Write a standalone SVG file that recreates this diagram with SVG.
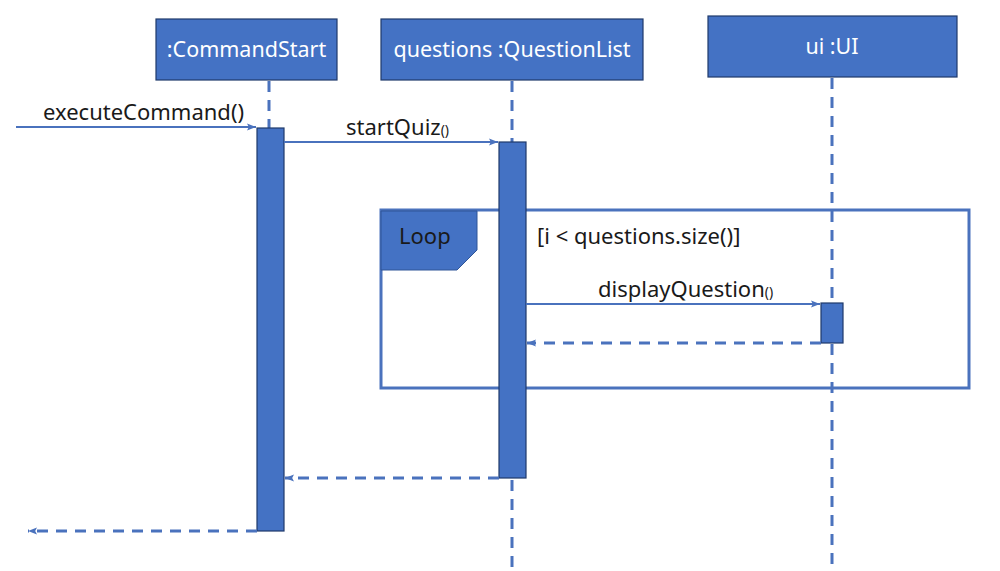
<svg xmlns="http://www.w3.org/2000/svg" width="1000" height="571" viewBox="0 0 1000 571">
<defs>
<style>
.box{fill:#4472C4;stroke:#1F3A6B;stroke-width:1.2}
.act{fill:#4472C4;stroke:#1F3A6B;stroke-width:1.2}
.btxt{font-family:"Noto Sans","DejaVu Sans",sans-serif;font-size:21.5px;fill:#FFFFFF;text-anchor:middle}
.lbl{font-family:"Noto Sans","DejaVu Sans",sans-serif;font-size:22px;fill:#1A1A1A}
.sm{font-size:14px}
.life{stroke:#4A72BD;stroke-width:3;stroke-dasharray:11 8;fill:none}
.msg{stroke:#4A72BD;stroke-width:2.2;fill:none}
.ret{stroke:#4A72BD;stroke-width:3;stroke-dasharray:11 8;fill:none}
.frame{fill:none;stroke:#4A72BD;stroke-width:3}
</style>
<marker id="ah" viewBox="0 0 10 10" refX="10" refY="5" markerWidth="9" markerHeight="9" markerUnits="userSpaceOnUse" orient="auto">
<path d="M0,1 L10,5 L0,9 L2,5 Z" fill="#4A72BD"/>
</marker>
</defs>
<rect width="1000" height="571" fill="#FFFFFF"/>

<g id="lifelines">
<line class="life" x1="269" y1="81" x2="269" y2="128"/>
<line class="life" x1="512" y1="81" x2="512" y2="571"/>
<line class="life" x1="832" y1="78" x2="832" y2="571"/>
</g>

<g id="loop-frame">
<rect class="frame" x="381" y="210" width="588" height="178"/>
<polygon points="381,211 477,211 477,250 457,270 381,270" fill="#4472C4" stroke="#2F5597" stroke-width="1"/>
<text class="lbl" x="399" y="244">Loop</text>
<text class="lbl" x="537" y="244">[i &lt; questions.size()]</text>
</g>

<g id="node-commandstart">
<rect class="box" x="156" y="19" width="181" height="61"/>
<text class="btxt" x="246.5" y="57">:CommandStart</text>
<rect class="act" x="257" y="128" width="27" height="403"/>
</g>

<g id="node-questionlist">
<rect class="box" x="381" y="19" width="262" height="61"/>
<text class="btxt" x="512" y="57">questions :QuestionList</text>
<rect class="act" x="499" y="142" width="27" height="336"/>
</g>

<g id="node-ui">
<rect class="box" x="708" y="16" width="249" height="61"/>
<text class="btxt" x="832" y="54">ui :UI</text>
<rect class="act" x="821" y="303" width="22" height="40"/>
</g>

<g id="connectors">
<line class="msg" x1="16" y1="127" x2="256" y2="127" marker-end="url(#ah)"/>
<text class="lbl" x="43" y="120">executeCommand()</text>
<line class="msg" x1="284" y1="142" x2="498" y2="142" marker-end="url(#ah)"/>
<text class="lbl" x="346" y="135">startQuiz<tspan class="sm">()</tspan></text>
<line class="msg" x1="526" y1="304" x2="820" y2="304" marker-end="url(#ah)"/>
<text class="lbl" x="598" y="297">displayQuestion<tspan class="sm">()</tspan></text>
<line class="ret" x1="821" y1="343" x2="527" y2="343" marker-end="url(#ah)"/>
<line class="ret" x1="499" y1="478" x2="285" y2="478" marker-end="url(#ah)"/>
<line class="ret" x1="257" y1="531" x2="28" y2="531" marker-end="url(#ah)"/>
</g>
</svg>
